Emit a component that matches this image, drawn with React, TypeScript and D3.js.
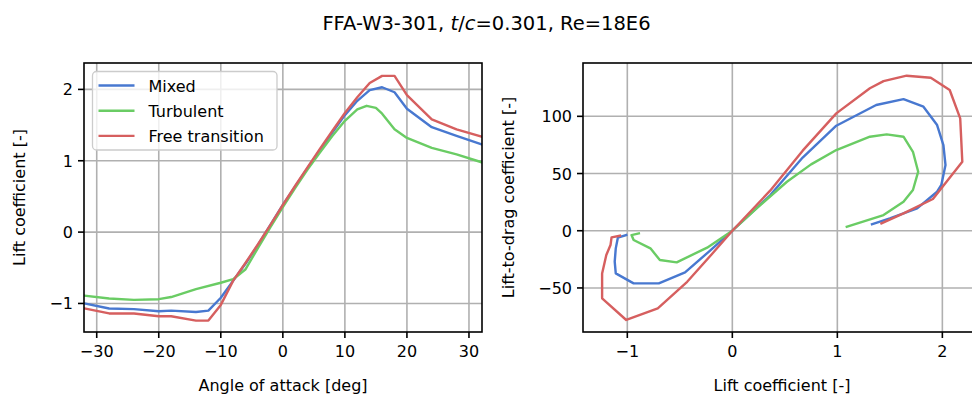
import React from "react";
import * as d3 from "d3";

// ---------- data ----------
const alphaMixed = [-32, -28, -24, -20, -18, -14, -12, -10, -8, -6, -4, -2, 0, 2, 4, 6, 8, 10, 12, 14, 16, 18, 20, 24, 28, 32];
const clMixed = [-1.0, -1.07, -1.08, -1.11, -1.1, -1.12, -1.1, -0.92, -0.68, -0.44, -0.18, 0.1, 0.38, 0.64, 0.9, 1.15, 1.4, 1.64, 1.84, 1.99, 2.03, 1.96, 1.73, 1.47, 1.35, 1.23];

const alphaTurb = [-32, -28, -24, -20, -18, -14, -10, -8, -6, -4, -2, 0, 2, 4, 6, 8, 10, 12, 13.5, 15, 16, 18, 20, 24, 28, 32];
const clTurb = [-0.89, -0.93, -0.95, -0.94, -0.91, -0.8, -0.71, -0.66, -0.52, -0.22, 0.07, 0.35, 0.62, 0.88, 1.12, 1.35, 1.56, 1.72, 1.77, 1.74, 1.66, 1.44, 1.32, 1.18, 1.09, 0.98];

const alphaFree = [-32, -28, -24, -20, -18, -14, -12, -10, -8, -6, -4, -2, 0, 2, 4, 6, 8, 10, 12, 14, 16, 18, 20, 24, 28, 32];
const clFree = [-1.07, -1.14, -1.14, -1.18, -1.18, -1.24, -1.24, -1.02, -0.68, -0.43, -0.17, 0.1, 0.38, 0.65, 0.91, 1.17, 1.42, 1.67, 1.89, 2.09, 2.19, 2.19, 1.92, 1.58, 1.44, 1.34];

const ldClMixed = [-1.01, -1.09, -1.11, -1.12, -1.11, -0.94, -0.7, -0.45, -0.22, 0, 0.36, 0.67, 0.99, 1.37, 1.63, 1.82, 1.95, 2.01, 2.03, 1.99, 1.95, 1.76, 1.5, 1.33];
const ldMixed = [-3.8, -6.1, -15.4, -27, -37.3, -46, -46, -36.4, -18, 0, 31, 64, 91.8, 109.9, 115, 108.4, 92.4, 74.9, 57.4, 40, 34.1, 19.6, 10.8, 5.6];

const ldClTurb = [-0.89, -0.96, -0.94, -0.78, -0.69, -0.53, -0.24, 0, 0.25, 0.52, 0.75, 0.99, 1.31, 1.47, 1.63, 1.72, 1.77, 1.72, 1.63, 1.44, 1.09];
const ldTurb = [-2.3, -3.8, -8.1, -15.4, -25.6, -27.6, -14.8, 0, 21, 42.8, 58, 70.5, 82.2, 84.2, 82.2, 69, 51.6, 35.6, 25.3, 13.7, 3.5];

const ldClFree = [-1.07, -1.15, -1.16, -1.2, -1.24, -1.24, -1.01, -0.71, -0.43, -0.2, 0, 0.36, 0.67, 0.99, 1.31, 1.44, 1.66, 1.89, 2.07, 2.17, 2.19, 1.91, 1.63, 1.42];
const ldFree = [-4.4, -5.8, -12.5, -21.2, -37.3, -59.1, -78, -67.8, -44.6, -21, 0, 35, 70, 102.6, 124.5, 130.8, 135.5, 133.7, 123, 98.2, 60.3, 27.7, 15.2, 6.5];

const seriesNames = ["Mixed", "Turbulent", "Free transition"];
const seriesColors = ["#4878d0", "#6acc64", "#d65f5f"];

const leftXTicks = [-30, -20, -10, 0, 10, 20, 30];
const leftYTicks = [-1, 0, 1, 2];
const rightXTicks = [-1, 0, 1, 2];
const rightYTicks = [-50, 0, 50, 100];

const titleMain = "FFA-W3-301, ";
const leftXLabel = "Angle of attack [deg]";
const leftYLabel = "Lift coefficient [-]";
const rightXLabel = "Lift coefficient [-]";
const rightYLabel = "Lift-to-drag coefficient [-]";

// ---------- layout ----------
const W = 972;
const H = 396;
const FONT = "DejaVu Sans, sans-serif";
const FS = 16;
const LW = 2.4;

const L = { x0: 84, x1: 482, y0: 63, y1: 332 };
const R = { x0: 583, x1: 981, y0: 63, y1: 332 };

function zip(a: number[], b: number[]): [number, number][] {
  return a.map((v, i) => [v, b[i]]);
}

function Axes({
  box, xs, ys, xTicks, yTicks, lines, xLabel, yLabel, yLabelX, clipId, legend,
}: any) {
  const fmt = (v: number) => (v < 0 ? "\u2212" + Math.abs(v) : String(v));
  const gen = d3.line<[number, number]>().x((d) => xs(d[0])).y((d) => ys(d[1]));
  const cy = (box.y0 + box.y1) / 2;
  const cx = (box.x0 + box.x1) / 2;
  return (
    <g>
      <defs>
        <clipPath id={clipId}>
          <rect x={box.x0} y={box.y0} width={box.x1 - box.x0} height={box.y1 - box.y0} />
        </clipPath>
      </defs>
      <g clipPath={`url(#${clipId})`}>
        {xTicks.map((t: number) => (
          <line key={"gx" + t} x1={xs(t)} x2={xs(t)} y1={box.y0} y2={box.y1} stroke="#b0b0b0" strokeWidth={1.6} />
        ))}
        {yTicks.map((t: number) => (
          <line key={"gy" + t} x1={box.x0} x2={box.x1} y1={ys(t)} y2={ys(t)} stroke="#b0b0b0" strokeWidth={1.6} />
        ))}
        {lines.map((l: any, i: number) => (
          <path key={i} d={gen(l.pts) || ""} fill="none" stroke={l.color} strokeWidth={LW} strokeLinejoin="round" strokeLinecap="square" />
        ))}
      </g>
      <rect x={box.x0} y={box.y0} width={box.x1 - box.x0} height={box.y1 - box.y0} fill="none" stroke="#000" strokeWidth={1.6} />
      {xTicks.map((t: number) => (
        <g key={"tx" + t}>
          <line x1={xs(t)} x2={xs(t)} y1={box.y1} y2={box.y1 + 6} stroke="#000" strokeWidth={1.6} />
          <text x={xs(t)} y={box.y1 + 25} textAnchor="middle" fontFamily={FONT} fontSize={FS} fill="#000">{fmt(t)}</text>
        </g>
      ))}
      {yTicks.map((t: number) => (
        <g key={"ty" + t}>
          <line x1={box.x0 - 6} x2={box.x0} y1={ys(t)} y2={ys(t)} stroke="#000" strokeWidth={1.6} />
          <text x={box.x0 - 11} y={ys(t) + 6} textAnchor="end" fontFamily={FONT} fontSize={FS} fill="#000">{fmt(t)}</text>
        </g>
      ))}
      <text x={cx} y={box.y1 + 59} textAnchor="middle" fontFamily={FONT} fontSize={FS} fill="#000">{xLabel}</text>
      <text transform={`translate(${yLabelX},${cy}) rotate(-90)`} textAnchor="middle" fontFamily={FONT} fontSize={FS} fill="#000">{yLabel}</text>
      {legend}
    </g>
  );
}

export default function App() {
  const xL = d3.scaleLinear().domain([-32.05, 32.1]).range([L.x0, L.x1]);
  const yL = d3.scaleLinear().domain([-1.4, 2.37]).range([L.y1, L.y0]);
  const xR = d3.scaleLinear().domain([-1.422, 2.368]).range([R.x0, R.x1]);
  const yR = d3.scaleLinear().domain([-88.5, 146.6]).range([R.y1, R.y0]);

  const leftLines = [
    { pts: zip(alphaMixed, clMixed), color: seriesColors[0] },
    { pts: zip(alphaTurb, clTurb), color: seriesColors[1] },
    { pts: zip(alphaFree, clFree), color: seriesColors[2] },
  ];
  const rightLines = [
    { pts: zip(ldClMixed, ldMixed), color: seriesColors[0] },
    { pts: zip(ldClTurb, ldTurb), color: seriesColors[1] },
    { pts: zip(ldClFree, ldFree), color: seriesColors[2] },
  ];

  const legend = (
    <g>
      <rect x={92.5} y={71.5} width={184.5} height={78.5} rx={4} fill="#fff" fillOpacity={0.8} stroke="#cccccc" strokeWidth={1.3} />
      {seriesNames.map((n, i) => {
        const y = 85.5 + i * 25.2;
        return (
          <g key={n}>
            <line x1={98.5} x2={134.5} y1={y} y2={y} stroke={seriesColors[i]} strokeWidth={LW} />
            <text x={148.5} y={y + 6} fontFamily={FONT} fontSize={FS} fill="#000">{n}</text>
          </g>
        );
      })}
    </g>
  );

  return (
    <svg width={W} height={H} style={{ position: "absolute", left: 0, top: 0, background: "#fff" }}>
      <rect x={0} y={0} width={W} height={H} fill="#fff" />
      <text x={486.5} y={30} textAnchor="middle" fontFamily={FONT} fontSize={19.5} fill="#000">
        {titleMain}
        <tspan fontStyle="italic">t</tspan>
        /
        <tspan fontStyle="italic">c</tspan>
        =0.301, Re=18E6
      </text>
      <Axes box={L} xs={xL} ys={yL} xTicks={leftXTicks} yTicks={leftYTicks} lines={leftLines}
        xLabel={leftXLabel} yLabel={leftYLabel} yLabelX={25} clipId="clipL" legend={legend} />
      <Axes box={R} xs={xR} ys={yR} xTicks={rightXTicks} yTicks={rightYTicks} lines={rightLines}
        xLabel={rightXLabel} yLabel={rightYLabel} yLabelX={514} clipId="clipR" />
    </svg>
  );
}
